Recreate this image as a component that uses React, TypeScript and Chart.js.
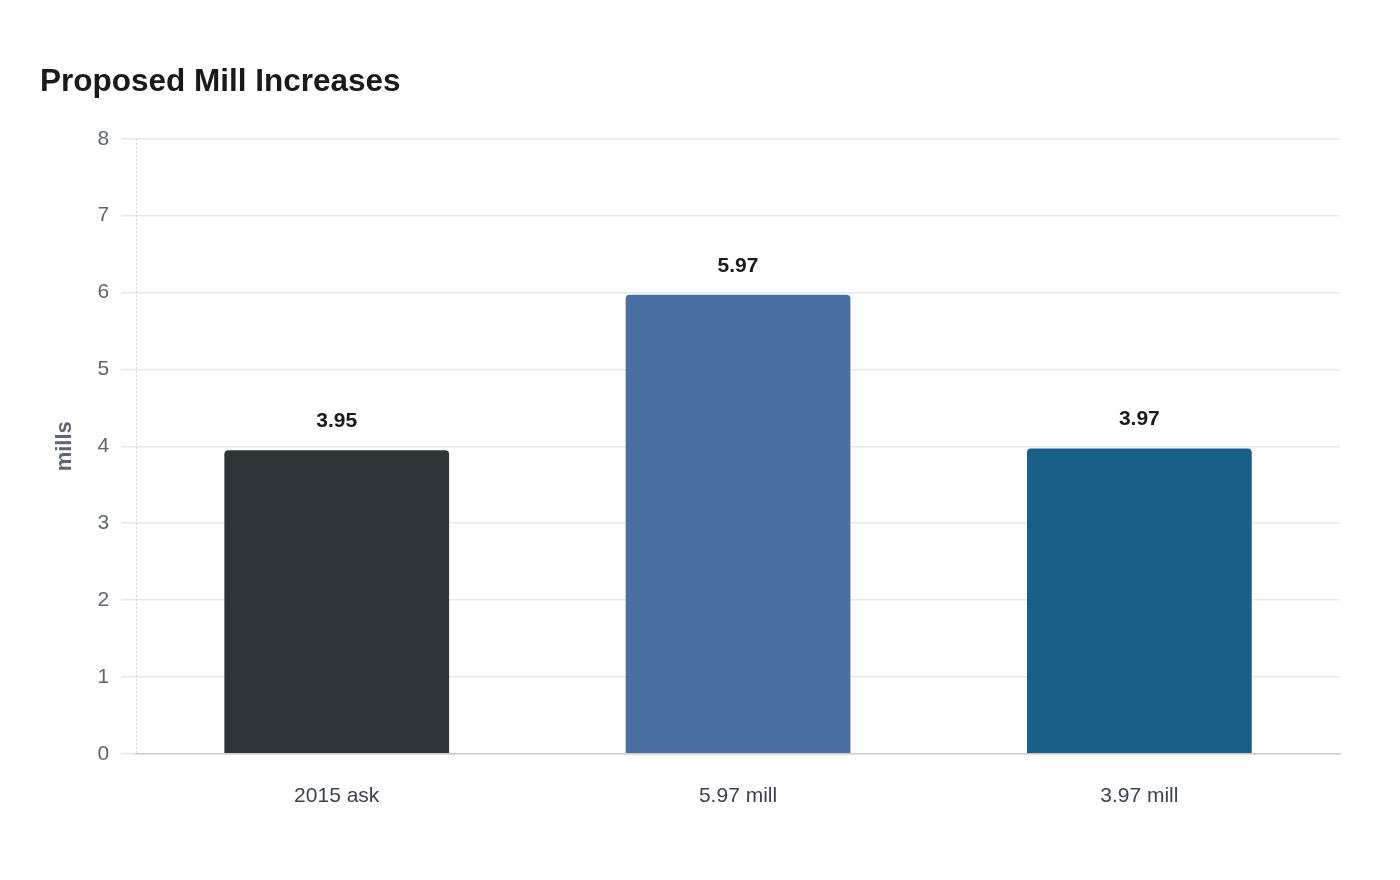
import { useEffect, useRef } from 'react'
import { Chart, registerables, type ChartConfiguration, type Plugin } from 'chart.js'

Chart.register(...registerables)

const categories = ['2015 ask', '5.97 mill', '3.97 mill']
const values = [3.95, 5.97, 3.97]
const barColors = ['#2e3538', '#4a6fa3', '#186087']
const yTicks = [0, 1, 2, 3, 4, 5, 6, 7, 8]

const FONT = '"Liberation Sans", Arial, sans-serif'

// value labels above each bar + dotted y axis line
const valueLabels: Plugin<'bar'> = {
  id: 'valueLabels',
  afterDatasetsDraw(chart) {
    const { ctx, chartArea } = chart
    ctx.save()
    ctx.strokeStyle = '#cfcfcf'
    ctx.lineWidth = 1
    ctx.setLineDash([2, 2])
    ctx.beginPath()
    ctx.moveTo(chartArea.left + 0.5, chartArea.top)
    ctx.lineTo(chartArea.left + 0.5, chartArea.bottom)
    ctx.stroke()
    ctx.setLineDash([])

    const meta = chart.getDatasetMeta(0)
    ctx.font = `bold 21px ${FONT}`
    ctx.fillStyle = '#1a1a1a'
    ctx.textAlign = 'center'
    ctx.textBaseline = 'middle'
    meta.data.forEach((bar, i) => {
      ctx.fillText(values[i].toFixed(2), bar.x, bar.y - 29)
    })
    ctx.restore()
  },
}

export default function App() {
  const ref = useRef<HTMLCanvasElement>(null)
  const chartRef = useRef<Chart | null>(null)

  useEffect(() => {
    document.body.style.margin = '0'
    if (!ref.current) return
    chartRef.current?.destroy()

    const config: ChartConfiguration<'bar'> = {
      type: 'bar',
      data: {
        labels: categories,
        datasets: [{
          data: values,
          backgroundColor: barColors,
          borderRadius: 4,
          borderSkipped: 'bottom',
          categoryPercentage: 1,
          barPercentage: 0.56,
        }],
      },
      options: {
        responsive: false,
        animation: false,
        layout: { padding: { left: 40, right: 60, top: 55, bottom: 49 } },
        plugins: {
          legend: { display: false },
          tooltip: { enabled: false },
          title: {
            display: true,
            text: 'Proposed Mill Increases',
            align: 'start',
            color: '#1a1a1a',
            font: { family: FONT, size: 31.5, weight: 'bold' },
            padding: { top: 8, bottom: 38 },
          },
        },
        scales: {
          x: {
            grid: { display: false },
            border: { display: true, color: '#cccccc', width: 1.5 },
            ticks: { color: '#3b4252', font: { family: FONT, size: 21 }, padding: 22 },
          },
          y: {
            min: 0,
            max: 8,
            afterBuildTicks: axis => { axis.ticks = yTicks.map(v => ({ value: v })) },
            grid: { color: '#e8e8e8', lineWidth: 1.5, tickLength: 15 },
            border: { display: false },
            ticks: { color: '#5f6670', font: { family: FONT, size: 21 }, padding: 12 },
            title: {
              display: true,
              text: 'mills',
              color: '#5f6670',
              font: { family: FONT, size: 22, weight: 'bold' },
              padding: { top: 12, bottom: 7 },
            },
          },
        },
      },
      plugins: [valueLabels],
    }

    chartRef.current = new Chart(ref.current, config)
    return () => chartRef.current?.destroy()
  }, [])

  return (
    <div style={{ width: 1400, height: 880, background: '#fff' }}>
      <canvas ref={ref} width={1400} height={880} style={{ width: 1400, height: 880, display: 'block' }} />
    </div>
  )
}
